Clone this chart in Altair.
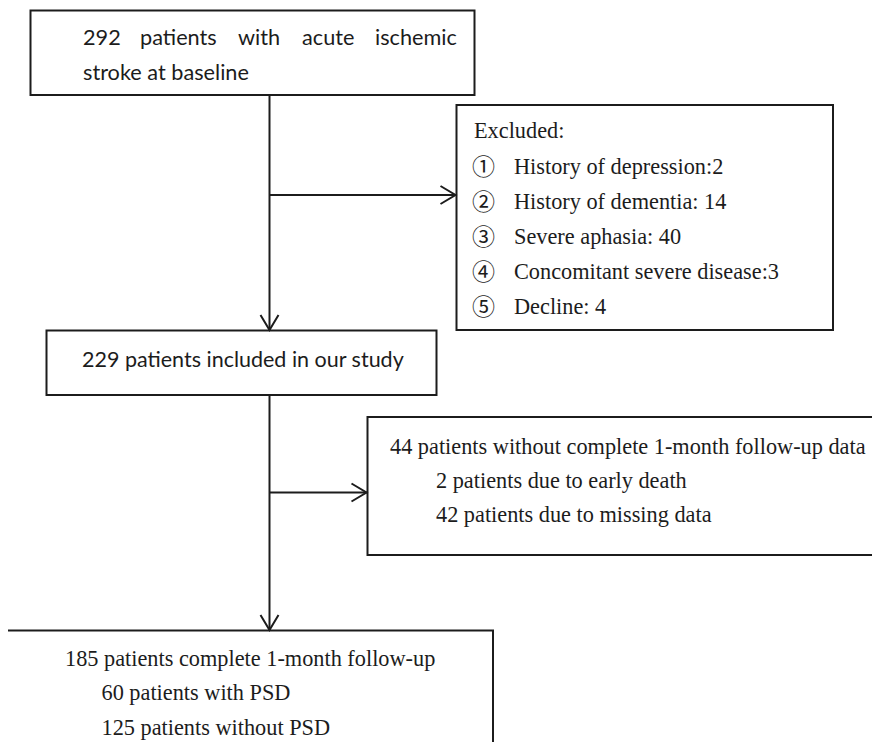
import altair as alt
import pandas as pd

# ---------------- content ----------------
baseline_words = ["292", "patients", "with", "acute", "ischemic"]
baseline_line2 = "stroke at baseline"
included_label = "229 patients included in our study"
excluded_title = "Excluded:"
excluded_marks = ["①", "②", "③", "④", "⑤"]
excluded_reasons = [
    "History of depression:2",
    "History of dementia: 14",
    "Severe aphasia: 40",
    "Concomitant severe disease:3",
    "Decline: 4",
]
lost_lines = [
    "44 patients without complete 1-month follow-up data",
    "2 patients due to early death",
    "42 patients due to missing data",
]
final_lines = [
    "185 patients complete 1-month follow-up",
    "60 patients with PSD",
    "125 patients without PSD",
]

# ---------------- layout (page pixels) ----------------
box_names = ["baseline", "excluded", "included", "lost", "final"]
box_left = [30.5, 456.5, 46.5, 367.5, 5.5]
box_right = [474.5, 833.0, 436.5, 895.0, 493.0]
box_top = [10.5, 105.0, 330.5, 417.0, 630.5]
box_bottom = [95.0, 330.0, 395.0, 555.0, 765.0]

spine_x = 269.5
rule_x = [spine_x, spine_x, spine_x, spine_x]
rule_x2 = [spine_x, spine_x, 456.0, 367.0]
rule_y = [95.0, 395.0, 195.0, 492.5]
rule_y2 = [330.5, 630.5, 195.0, 492.5]

down_tip_x = [spine_x, spine_x]
down_tip_y = [330.0, 630.0]
right_tip_x = [455.5, 366.5]
right_tip_y = [195.0, 492.5]

word_x = [83, 140, 238, 302, 375]

INK = "#1c1c1c"
SANS = "Lato"
SERIF = "Liberation Serif"
SERIF_SIZE = 22.3

xs = alt.Scale(domain=[8, 872], nice=False, zero=False)
ys = alt.Scale(domain=[8, 742], nice=False, zero=False, reverse=True)


def X(f="x"):
    return alt.X(f + ":Q", scale=xs, axis=None)


def Y(f="y"):
    return alt.Y(f + ":Q", scale=ys, axis=None)


boxes = pd.DataFrame({"name": box_names, "x": box_left, "x2": box_right,
                      "y": box_top, "y2": box_bottom})
rect = alt.Chart(boxes).mark_rect(
    fill="white", fillOpacity=0, stroke=INK, strokeWidth=2, clip=True
).encode(x=X(), x2="x2:Q", y=Y(), y2="y2:Q")

rules = pd.DataFrame({"x": rule_x, "x2": rule_x2, "y": rule_y, "y2": rule_y2})
connectors = alt.Chart(rules).mark_rule(color=INK, strokeWidth=2).encode(
    x=X(), x2="x2:Q", y=Y(), y2="y2:Q"
)

down = alt.Chart(pd.DataFrame({"x": down_tip_x, "y": down_tip_y})).mark_point(
    shape="M -0.6 -1 L 0 0 L 0.6 -1", size=900, filled=False,
    stroke=INK, strokeWidth=2, opacity=1
).encode(x=X(), y=Y())

right = alt.Chart(pd.DataFrame({"x": right_tip_x, "y": right_tip_y})).mark_point(
    shape="M -1 -0.6 L 0 0 L -1 0.6", size=900, filled=False,
    stroke=INK, strokeWidth=2, opacity=1
).encode(x=X(), y=Y())


def text_layer(xv, yv, tv, font, size, align="left"):
    df = pd.DataFrame({"x": xv, "y": yv, "t": tv})
    return alt.Chart(df).mark_text(
        align=align, baseline="alphabetic", font=font, fontSize=size, color=INK
    ).encode(x=X(), y=Y(), text="t:N")


item_y = [174, 209, 244, 279, 313.5]

t_b1 = text_layer(word_x + [83], [45] * 5 + [80], baseline_words + [baseline_line2], SANS, 21.7)
t_b2 = text_layer([82], [367], [included_label], SANS, 21.5)
t_ex_title = text_layer([474], [138], [excluded_title], SERIF, SERIF_SIZE)
t_ex_marks = text_layer([483.5] * 5, [y + 1 for y in item_y], excluded_marks,
                        "Noto Sans CJK JP", 23, align="center")
t_ex = text_layer([514] * 5, item_y, excluded_reasons, SERIF, SERIF_SIZE)
t_lost = text_layer([390, 436, 436], [454, 488, 522], lost_lines, SERIF, SERIF_SIZE)
t_final = text_layer([65, 101.5, 101.5], [666, 700, 735], final_lines, SERIF, SERIF_SIZE)

chart = alt.layer(
    rect, connectors, down, right,
    t_b1, t_b2, t_ex_title, t_ex_marks, t_ex, t_lost, t_final
).properties(
    width=864, height=734, padding=0, autosize="none", background="white"
).configure_view(stroke=None)

chart.save("out.html", embed_options={"renderer": "svg", "actions": False})
